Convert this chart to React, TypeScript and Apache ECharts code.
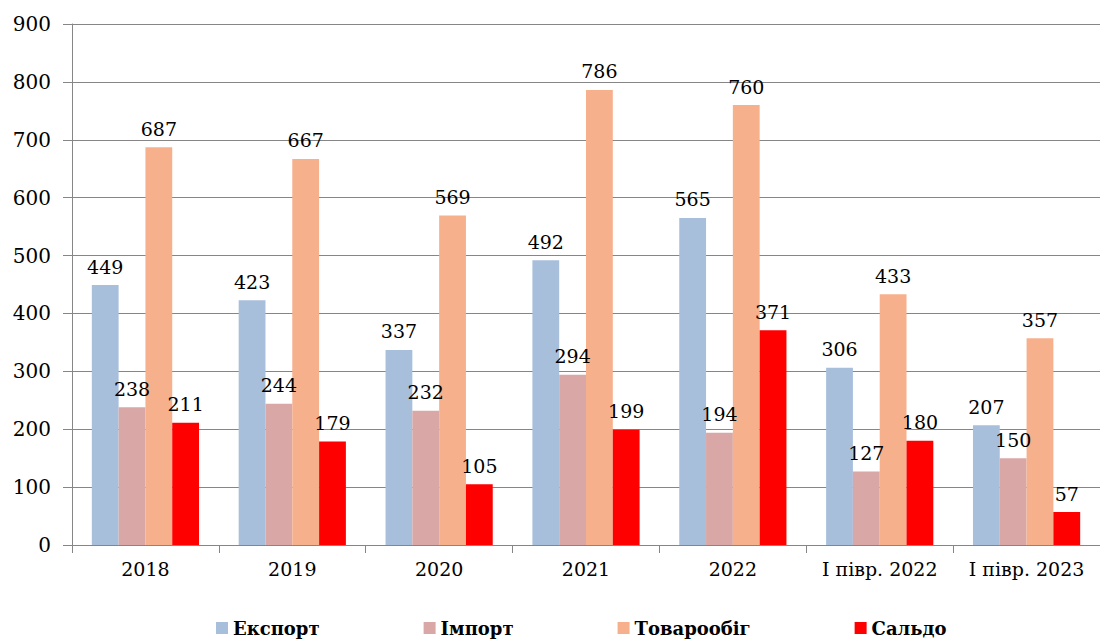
import React, { useEffect, useRef } from "react";
import * as echarts from "echarts";

const categories = ["2018", "2019", "2020", "2021", "2022", "I півр. 2022", "I півр. 2023"];
const exportVals = [449, 423, 337, 492, 565, 306, 207];
const importVals = [238, 244, 232, 294, 194, 127, 150];
const turnoverVals = [687, 667, 569, 786, 760, 433, 357];
const balanceVals = [211, 179, 105, 199, 371, 180, 57];
const seriesNames = ["Експорт", "Імпорт", "Товарообіг", "Сальдо"];
const colors = ["#a8bfdc", "#d9a7a6", "#f7b08c", "#ff0000"];

const FONT = "DejaVu Serif";

export default function App() {
  const ref = useRef<HTMLDivElement>(null);
  useEffect(() => {
    if (!ref.current) return;
    const chart = echarts.init(ref.current, undefined, { renderer: "svg" });
    const values = [exportVals, importVals, turnoverVals, balanceVals];
    chart.setOption({
      animation: false,
      backgroundColor: "#ffffff",
      textStyle: { fontFamily: FONT },
      grid: { left: 72, right: -8, top: 24, bottom: 96, containLabel: false },
      legend: {
        bottom: -1,
        left: 211,
        itemWidth: 12,
        itemHeight: 12,
        itemGap: 104,
        icon: "rect",
        textStyle: { fontFamily: FONT, fontSize: 18, fontWeight: "bold", color: "#000" },
        data: seriesNames,
      },
      xAxis: {
        type: "category",
        data: categories,
        axisLine: { lineStyle: { color: "#868686", width: 1 } },
        axisTick: { show: true, length: 8, alignWithLabel: false, lineStyle: { color: "#868686" } },
        axisLabel: { fontFamily: FONT, fontSize: 19, color: "#000", margin: 14, interval: 0 },
      },
      yAxis: {
        type: "value",
        min: 0,
        max: 900,
        interval: 100,
        axisLine: { show: true, lineStyle: { color: "#868686", width: 1 } },
        axisTick: { show: true, length: 9, lineStyle: { color: "#868686" } },
        splitLine: { lineStyle: { color: "#868686", width: 1 } },
        axisLabel: { fontFamily: FONT, fontSize: 20, color: "#000", margin: 21 },
      },
      series: seriesNames.map((name, i) => ({
        name,
        type: "bar",
        data: values[i],
        barGap: "0%",
        barCategoryGap: "27%",
        itemStyle: { color: colors[i] },
        label: {
          show: true,
          position: "top",
          distance: 9,
          fontFamily: FONT,
          fontSize: 19,
          color: "#000",
        },
      })),
    });
    return () => chart.dispose();
  }, []);
  return <div ref={ref} style={{ width: 1100, height: 641, position: "absolute", left: 0, top: 0 }} />;
}
